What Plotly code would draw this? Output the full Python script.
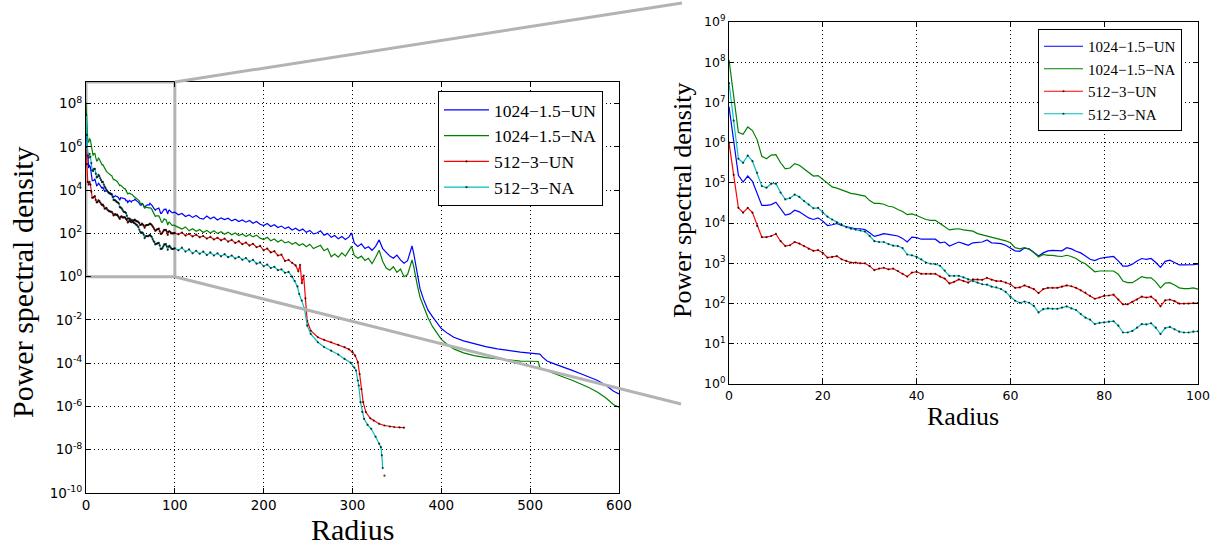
import math
import plotly.graph_objects as go

# ---------------- data (log10 of power spectral density) ----------------
radius_low = list(range(0, 101))

un1024_low = [6.9, 6.05, 5.19, 5.02, 5.17, 5.04, 4.75, 4.44, 4.44, 4.46, 4.52, 4.35, 4.2, 4.23, 4.32, 4.28, 4.2, 4.13, 4.09, 4.13,
              4.05, 3.94, 3.96, 3.99, 3.94, 3.91, 3.88, 3.86, 3.86, 3.84, 3.76, 3.67, 3.7, 3.74, 3.72, 3.70, 3.68, 3.62, 3.53, 3.65,
              3.64, 3.6, 3.6, 3.6, 3.6, 3.51, 3.53, 3.43, 3.48, 3.53, 3.49, 3.45, 3.51, 3.52, 3.53, 3.58, 3.51, 3.5, 3.49, 3.45,
              3.39, 3.31, 3.30, 3.38, 3.36, 3.28, 3.18, 3.26, 3.31, 3.32, 3.32, 3.31, 3.39, 3.36, 3.3, 3.26, 3.18, 3.10, 3.07, 3.12,
              3.14, 3.15, 3.17, 3.06, 2.93, 2.93, 2.98, 3.06, 3.12, 3.1, 3.12, 3.02, 2.90, 3.05, 3.08, 3.02, 2.96, 2.96, 2.96, 2.97,
              2.98]
na1024_low = [8.06, 7.1, 6.26, 6.21, 6.39, 6.30, 6.07, 5.66, 5.60, 5.69, 5.70, 5.50, 5.35, 5.37, 5.48, 5.44, 5.35, 5.26, 5.17, 5.18,
              5.08, 4.98, 4.90, 4.87, 4.82, 4.77, 4.74, 4.72, 4.69, 4.67, 4.56, 4.49, 4.49, 4.47, 4.42, 4.40, 4.34, 4.29, 4.21, 4.23,
              4.19, 4.13, 4.09, 4.07, 4.07, 3.99, 3.90, 3.83, 3.85, 3.86, 3.83, 3.82, 3.80, 3.74, 3.71, 3.68, 3.66, 3.63, 3.60, 3.56,
              3.51, 3.39, 3.36, 3.39, 3.35, 3.27, 3.16, 3.22, 3.20, 3.20, 3.18, 3.17, 3.20, 3.17, 3.12, 3.04, 2.99, 2.89, 2.79, 2.81,
              2.81, 2.81, 2.81, 2.73, 2.56, 2.52, 2.52, 2.59, 2.67, 2.64, 2.64, 2.54, 2.39, 2.51, 2.52, 2.46, 2.39, 2.37, 2.37, 2.39,
              2.36]
un512_low = [6.0, 5.2, 4.38, 4.26, 4.38, 4.26, 3.93, 3.65, 3.65, 3.68, 3.73, 3.55, 3.43, 3.45, 3.53, 3.49, 3.43, 3.36, 3.31, 3.33,
             3.26, 3.14, 3.16, 3.18, 3.10, 3.06, 3.02, 3.02, 3.0, 3.0, 2.93, 2.83, 2.87, 2.89, 2.85, 2.87, 2.81, 2.74, 2.67, 2.77,
             2.79, 2.74, 2.74, 2.74, 2.74, 2.67, 2.62, 2.50, 2.54, 2.60, 2.56, 2.52, 2.60, 2.60, 2.59, 2.64, 2.59, 2.56, 2.56, 2.52,
             2.48, 2.39, 2.40, 2.45, 2.41, 2.36, 2.26, 2.36, 2.39, 2.39, 2.39, 2.42, 2.45, 2.43, 2.39, 2.33, 2.27, 2.19, 2.12, 2.15,
             2.19, 2.20, 2.22, 2.10, 1.98, 1.98, 2.04, 2.10, 2.17, 2.15, 2.17, 2.08, 1.93, 2.08, 2.10, 2.06, 2.00, 2.00, 2.00, 2.01,
             2.01]
na512_low = [7.48, 6.55, 5.60, 5.50, 5.68, 5.54, 5.25, 4.92, 4.88, 4.98, 4.98, 4.76, 4.59, 4.62, 4.71, 4.65, 4.55, 4.46, 4.37, 4.38,
             4.26, 4.16, 4.09, 4.02, 3.96, 3.90, 3.86, 3.84, 3.82, 3.79, 3.68, 3.55, 3.53, 3.53, 3.48, 3.44, 3.43, 3.38, 3.22, 3.20,
             3.16, 3.10, 3.02, 2.99, 2.98, 2.94, 2.82, 2.69, 2.69, 2.69, 2.65, 2.60, 2.56, 2.52, 2.48, 2.47, 2.42, 2.40, 2.36, 2.29,
             2.17, 2.07, 2.02, 2.05, 2.02, 1.94, 1.78, 1.86, 1.88, 1.87, 1.87, 1.90, 1.93, 1.88, 1.84, 1.74, 1.65, 1.60, 1.49, 1.52,
             1.53, 1.55, 1.56, 1.45, 1.28, 1.28, 1.32, 1.40, 1.49, 1.48, 1.51, 1.40, 1.24, 1.39, 1.42, 1.36, 1.30, 1.28, 1.28, 1.30,
             1.31]

radius_high_1024 = [104, 108, 112, 116, 120, 124, 128, 132, 136, 140, 144, 148, 152, 156, 160, 164, 168, 172, 176, 180,
                    184, 188, 192, 196, 200, 204, 208, 212, 216, 220, 224, 228, 232, 236, 240, 244, 248, 252, 256, 260,
                    264, 268, 272, 276, 280, 284, 288, 292, 296, 299, 302, 306, 310, 314, 318, 322, 326, 330, 334, 338,
                    342, 346, 350, 354, 358, 362, 365, 367, 369, 371, 373, 376, 380, 385, 390, 395, 400, 407, 414, 425,
                    437, 450, 463, 476, 489, 500, 509, 511, 514, 519, 528, 538, 548, 557, 566, 576, 585, 594, 600]
un1024_high = [2.86, 2.92, 2.78, 2.85, 2.74, 2.83, 2.70, 2.66, 2.80, 2.68, 2.76, 2.62, 2.72, 2.64, 2.70, 2.58, 2.66, 2.55, 2.62, 2.52,
               2.60, 2.47, 2.55, 2.42, 2.36, 2.46, 2.32, 2.40, 2.27, 2.34, 2.22, 2.30, 2.16, 2.24, 2.12, 2.20, 2.05, 2.14, 1.98, 2.02,
               2.12, 1.92, 2.00, 1.82, 1.90, 1.75, 1.86, 1.72, 1.84, 2.02, 1.55, 1.40, 1.52, 1.30, 1.38, 1.22, 1.40, 1.70, 1.30, 1.10,
               0.95, 0.85, 1.00, 0.78, 0.62, 0.74, 1.15, 1.42, 1.05, 0.55, 0.10, -0.55, -1.05, -1.55, -1.85, -2.15, -2.40, -2.62, -2.80, -2.97,
               -3.11, -3.23, -3.34, -3.42, -3.49, -3.53, -3.56, -3.58, -3.72, -3.90, -4.04, -4.18, -4.34, -4.49, -4.63, -4.80, -5.02, -5.30, -5.42]
na1024_high = [2.28, 2.20, 2.30, 2.12, 2.22, 2.10, 2.18, 2.04, 2.14, 2.02, 2.12, 2.00, 2.08, 1.96, 2.06, 1.94, 2.02, 1.90, 1.98, 1.86,
               1.95, 1.84, 1.92, 1.78, 1.72, 1.82, 1.66, 1.74, 1.60, 1.70, 1.56, 1.62, 1.50, 1.58, 1.44, 1.52, 1.38, 1.50, 1.30, 1.36,
               1.45, 1.20, 1.30, 0.92, 1.05, 0.90, 1.10, 0.95, 1.20, 1.40, 0.98, 0.85, 0.95, 0.75, 0.85, 0.60, 0.90, 1.22, 0.70, 0.40,
               0.30, 0.46, 0.20, 0.35, 0.00, 0.10, 0.50, 0.78, 0.45, 0.10, -0.40, -0.95, -1.40, -1.90, -2.30, -2.60, -2.90, -3.15, -3.34, -3.52,
               -3.65, -3.74, -3.80, -3.86, -3.90, -3.91, -3.92, -4.22, -4.28, -4.34, -4.50, -4.65, -4.80, -4.95, -5.12, -5.34, -5.60, -5.92, -6.03]

radius_high_512_un = [104, 108, 112, 116, 120, 124, 128, 132, 136, 140, 144, 148, 152, 156, 160, 164, 168, 172, 176, 180,
                      184, 188, 192, 196, 200, 204, 208, 212, 216, 220, 224, 228, 232, 236, 239, 241, 243, 245, 247, 249,
                      253, 261, 268, 276, 284, 291, 296, 300, 303, 306, 308, 310, 312, 315, 320, 324, 330, 336, 342, 347,
                      353, 358]
un512_high = [1.96, 2.04, 1.90, 1.98, 1.86, 1.94, 1.82, 1.88, 1.76, 1.84, 1.72, 1.80, 1.68, 1.76, 1.62, 1.70, 1.56, 1.64, 1.50, 1.58,
              1.44, 1.52, 1.36, 1.42, 1.22, 1.30, 1.12, 1.18, 0.98, 1.02, 0.72, 0.78, 0.64, 0.52, 0.25, 0.55, -0.30, 0.05, -1.00, -2.05,
              -2.50, -2.80, -2.92, -3.03, -3.15, -3.26, -3.36, -3.49, -3.65, -3.95, -4.50, -5.20, -5.80, -6.26, -6.55, -6.65, -6.80, -6.88, -6.93, -6.95,
              -6.97, -6.98]

radius_high_512_na = [104, 108, 112, 116, 120, 124, 128, 132, 136, 140, 144, 148, 152, 156, 160, 164, 168, 172, 176, 180,
                      184, 188, 192, 196, 200, 204, 208, 212, 216, 220, 224, 228, 232, 235, 238, 240, 243, 246, 249, 253,
                      261, 268, 276, 284, 291, 298, 302, 304, 306, 307, 309, 311, 313, 317, 321, 326, 330, 332, 333, 334,
                      335, 336]
na512_high = [1.22, 1.34, 1.16, 1.26, 1.08, 1.20, 1.06, 1.16, 1.00, 1.12, 0.98, 1.08, 0.94, 1.04, 0.90, 0.98, 0.84, 0.92, 0.78, 0.86,
              0.70, 0.78, 0.60, 0.66, 0.48, 0.56, 0.40, 0.46, 0.30, 0.34, 0.18, 0.22, 0.00, -0.20, -0.45, -0.80, -1.10, -1.49, -2.26, -2.65,
              -3.03, -3.25, -3.42, -3.60, -3.80, -3.98, -4.20, -4.34, -4.80, -5.03, -5.80, -6.25, -6.57, -6.85, -7.03, -7.40, -7.72, -7.88, -8.26, -8.85,
              None, -9.2]

series_names = ["1024\u22121.5\u2212UN", "1024\u22121.5\u2212NA", "512\u22123\u2212UN", "512\u22123\u2212NA"]
series_colors = ["#0000ff", "#008000", "#ff0000", "#00bfbf"]

left_x_ticks = [0, 100, 200, 300, 400, 500, 600]
right_x_ticks = [0, 20, 40, 60, 80, 100]
left_y_exponents = [-10, -8, -6, -4, -2, 0, 2, 4, 6, 8]
right_y_exponents = [0, 1, 2, 3, 4, 5, 6, 7, 8, 9]
left_y_range_log = [-10, 9]
right_y_range_log = [0, 9]
zoom_x = [0, 100]


def to_psd(logs):
    return [None if v is None else 10 ** v for v in logs]


series = [
    (radius_low + radius_high_1024, un1024_low + un1024_high, False),
    (radius_low + radius_high_1024, na1024_low + na1024_high, False),
    (radius_low + radius_high_512_un, un512_low + un512_high, True),
    (radius_low + radius_high_512_na, na512_low + na512_high, True),
]

W, H = 1220, 549
L_dom_x = [86 / W, 619 / W]
L_dom_y = [1 - 493 / H, 1 - 82 / H]
R_dom_x = [729 / W, 1198 / W]
R_dom_y = [1 - 384 / H, 1 - 22 / H]

fig = go.Figure()
for (xs, ys, dots), name, col in zip(series, series_names, series_colors):
    yv = to_psd(ys)
    mode = "lines+markers" if dots else "lines"
    mk = dict(size=2.2, color="rgba(0,0,0,0.75)")
    fig.add_trace(go.Scatter(x=xs, y=yv, name=name, mode=mode, marker=mk,
                             line=dict(color=col, width=1.2), xaxis="x", yaxis="y",
                             legend="legend"))
    fig.add_trace(go.Scatter(x=xs, y=yv, name=name, mode=mode, marker=mk,
                             line=dict(color=col, width=1.2), xaxis="x2", yaxis="y2",
                             legend="legend2"))

axis_common = dict(showline=True, linecolor="black", linewidth=1, mirror="ticks",
                   ticks="inside", tickcolor="black", ticklen=5,
                   showgrid=True, gridcolor="black", griddash="1px,3px", gridwidth=1,
                   zeroline=False, automargin=False)
tick_font_L = dict(family="DejaVu Sans", size=13.5, color="black")
tick_font_R = dict(family="DejaVu Sans", size=12.5, color="black")


def pow_labels(exps):
    return [f"10<sup>{e}</sup>" for e in exps]


fig.update_layout(
    width=W, height=H, autosize=False,
    margin=dict(l=0, r=0, t=0, b=0),
    paper_bgcolor="white", plot_bgcolor="white",
    xaxis=dict(domain=L_dom_x, range=[0, 600], tickvals=left_x_ticks, anchor="y",
               tickfont=tick_font_L, **axis_common),
    yaxis=dict(domain=L_dom_y, type="log", range=left_y_range_log, anchor="x",
               tickvals=[10 ** e for e in left_y_exponents], ticktext=pow_labels(left_y_exponents),
               tickfont=tick_font_L, **axis_common),
    xaxis2=dict(domain=R_dom_x, range=zoom_x, tickvals=right_x_ticks, anchor="y2",
                tickfont=tick_font_R, **axis_common),
    yaxis2=dict(domain=R_dom_y, type="log", range=right_y_range_log, anchor="x2",
                tickvals=[10 ** e for e in right_y_exponents], ticktext=pow_labels(right_y_exponents),
                tickfont=tick_font_R, **axis_common),
    legend=dict(x=438 / W, y=1 - 91 / H, xanchor="left", yanchor="top",
                bgcolor="white", bordercolor="black", borderwidth=1, itemwidth=45,
                font=dict(family="Liberation Serif", size=17.5, color="black")),
    legend2=dict(x=1038 / W, y=1 - 29 / H, xanchor="left", yanchor="top",
                 bgcolor="white", bordercolor="black", borderwidth=1, itemwidth=39,
                 font=dict(family="Liberation Serif", size=15, color="black")),
    showlegend=True,
)

title_font_L = dict(family="Liberation Serif", size=30, color="black")
title_font_R = dict(family="Liberation Serif", size=26, color="black")
annots = [
    dict(text="Power spectral density", x=22 / W, y=1 - 282 / H, textangle=-90, font=title_font_L),
    dict(text="Radius", x=352 / W, y=1 - 529 / H, font=title_font_L),
    dict(text="Power spectral density", x=683 / W, y=1 - 201 / H, textangle=-90, font=title_font_R),
    dict(text="Radius", x=963 / W, y=1 - 416 / H, font=title_font_R),
]
for a in annots:
    fig.add_annotation(xref="paper", yref="paper", showarrow=False,
                       xanchor="center", yanchor="middle", **a)

# zoom box in the left panel and connection lines to the right panel
grey = "#b3b3b3"
fig.add_shape(type="rect", xref="x", yref="y", x0=zoom_x[0], x1=zoom_x[1],
              y0=10 ** right_y_range_log[0], y1=10 ** right_y_range_log[1],
              line=dict(color=grey, width=3), layer="between")
box_right = L_dom_x[0] + (zoom_x[1] - 0) / 600 * (L_dom_x[1] - L_dom_x[0])
span = left_y_range_log[1] - left_y_range_log[0]
box_top = L_dom_y[0] + (right_y_range_log[1] - left_y_range_log[0]) / span * (L_dom_y[1] - L_dom_y[0])
box_bot = L_dom_y[0] + (right_y_range_log[0] - left_y_range_log[0]) / span * (L_dom_y[1] - L_dom_y[0])
fig.add_shape(type="line", xref="paper", yref="paper", x0=box_right, y0=box_top,
              x1=682 / W, y1=1 - 3 / H, line=dict(color=grey, width=3))
fig.add_shape(type="line", xref="paper", yref="paper", x0=box_right, y0=box_bot,
              x1=681 / W, y1=1 - 404 / H, line=dict(color=grey, width=3))

fig.write_html("out.html")
